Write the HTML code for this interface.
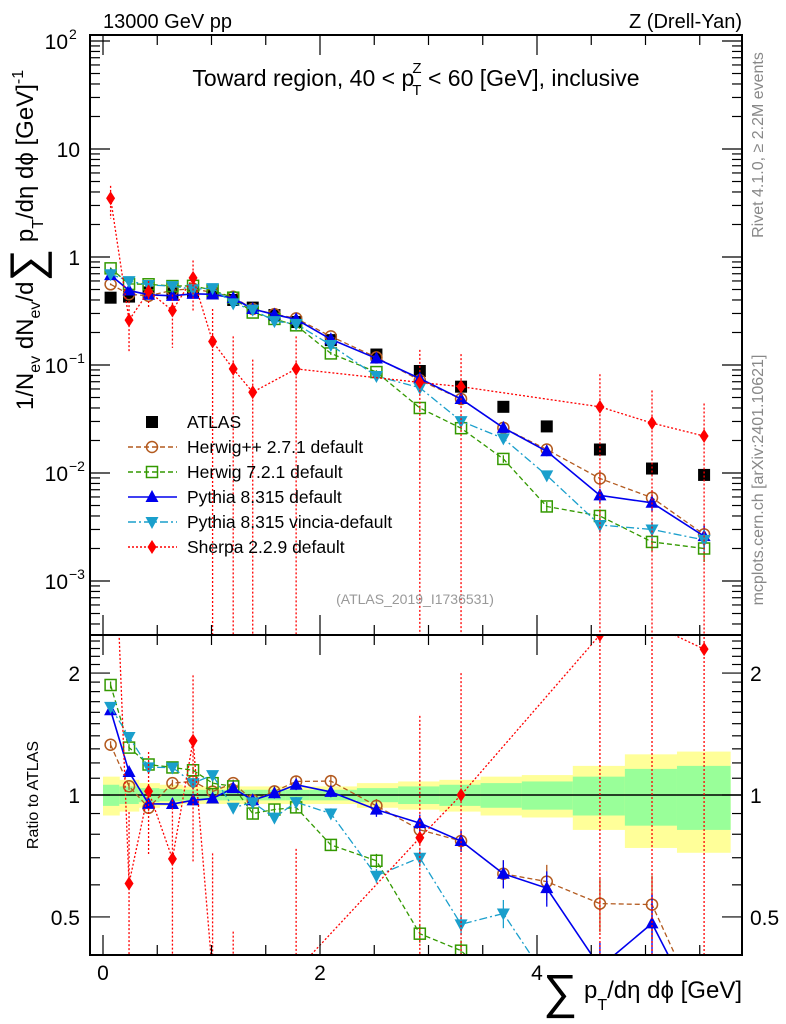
<!DOCTYPE html>
<html><head><meta charset="utf-8">
<style>
html,body{margin:0;padding:0;background:#fff;overflow:hidden;width:786px;height:1024px;}
svg{display:block;}
svg text{font-family:"Liberation Sans",sans-serif;}
</style></head>
<body>
<svg id="chart" xmlns="http://www.w3.org/2000/svg" width="786" height="1024" viewBox="0 0 786 1024" style="position:absolute;left:0;top:0"></svg>
<script>
const xCenters=[0.07,0.24,0.42,0.64,0.83,1.01,1.20,1.38,1.58,1.78,2.10,2.52,2.92,3.30,3.69,4.09,4.58,5.06,5.54];
const binEdges=[0,0.15,0.33,0.52,0.73,0.93,1.10,1.30,1.48,1.68,1.90,2.34,2.72,3.10,3.48,3.86,4.33,4.81,5.29,5.78];
const atlasVals=[0.42,0.43,0.47,0.46,0.47,0.46,0.40,0.34,0.29,0.25,0.17,0.125,0.088,0.063,0.041,0.027,0.0165,0.011,0.0096];
const bandTotal=[0.11,0.09,0.07,0.06,0.05,0.05,0.05,0.05,0.05,0.05,0.05,0.07,0.08,0.09,0.11,0.12,0.18,0.26,0.28];
const bandStat=[0.06,0.05,0.04,0.035,0.03,0.03,0.03,0.03,0.03,0.03,0.03,0.04,0.05,0.06,0.07,0.08,0.11,0.16,0.18];
const herwigppVals=[0.559,0.452,0.437,0.492,0.508,0.469,0.428,0.330,0.296,0.270,0.184,0.1175,0.0722,0.0485,0.0262,0.0165,0.0089,0.0059,0.0027];
const herwig7Vals=[0.785,0.563,0.559,0.538,0.541,0.492,0.42,0.306,0.267,0.233,0.128,0.086,0.040,0.026,0.0135,0.0049,0.0040,0.0023,0.0020];
const pythiaVals=[0.680,0.490,0.447,0.437,0.456,0.451,0.416,0.330,0.293,0.265,0.173,0.115,0.075,0.0485,0.0262,0.0159,0.0062,0.0053,0.0026];
const vinciaVals=[0.693,0.598,0.550,0.538,0.503,0.515,0.372,0.326,0.255,0.240,0.153,0.079,0.0616,0.0302,0.0209,0.0095,0.0033,0.0030,0.0024];
const sherpaVals=[3.5,0.26,0.48,0.32,0.64,0.165,0.092,0.056,null,0.092,null,null,0.069,0.063,null,null,0.041,0.029,0.022];
const modelErr=[0.02,0.02,0.02,0.02,0.02,0.02,0.02,0.03,0.03,0.03,0.03,0.04,0.05,0.06,0.08,0.1,0.15,0.18,0.25];
const sherpaErrUp=[0.3,0.5,0.25,0.4,0.45,1,1,1,0,1,0,0,1,1,0,0,1,1,1];
const sherpaErrDn=[0.35,0.5,0.3,0.55,0.5,1,1,1,0,1,0,0,1,1,0,0,1,1,1];
const yTickLabelsMain=[["10","2"],["10",""],["1",""],["10","−1"],["10","−2"],["10","−3"]];
const ratioTicks=[0.5,1,2];
const xTicks=[0,2,4];

const svg=document.getElementById('chart');
const NS='http://www.w3.org/2000/svg';
const L=90,R=742,MT=35,MB=635,RT=635,RB=955;
function X(v){return 103+v*108.5;}
function Y(v){return 257-108*Math.log10(v);}
function YR(r){return 795-405*Math.log10(r);}
function mk(tag,attrs,parent){const e=document.createElementNS(NS,tag);for(const k in attrs)e.setAttribute(k,attrs[k]);(parent||svg).appendChild(e);return e;}
function clampY(y,top,bot){return Math.max(top,Math.min(bot,y));}

const defs=mk('defs',{});
const c1=mk('clipPath',{id:'cm'},defs);mk('rect',{x:L,y:MT,width:R-L,height:MB-MT},c1);
const c2=mk('clipPath',{id:'cr'},defs);mk('rect',{x:L,y:RT,width:R-L,height:RB-RT},c2);

const gBand=mk('g',{'clip-path':'url(#cr)'});


for(let i=0;i<xCenters.length;i++){
  const x0=X(binEdges[i]),x1=X(binEdges[i+1]);
  const r1=mk('rect',{x:x0,y:YR(1+bandTotal[i]),width:x1-x0+0.5,height:YR(1-bandTotal[i])-YR(1+bandTotal[i]),fill:'#ffff99'},gBand);
  
  
  const r2=mk('rect',{x:x0,y:YR(1+bandStat[i]),width:x1-x0+0.5,height:YR(1-bandStat[i])-YR(1+bandStat[i]),fill:'#99ff99'},gBand);
  
  
}
mk('line',{x1:L,x2:R,y1:YR(1),y2:YR(1),stroke:'#000','stroke-width':1.5});

function marker(g,type,x,y,color){
  let e;
  if(type==='square')e=mk('rect',{x:x-6,y:y-6,width:12,height:12,fill:'#000'},g);
  else if(type==='circle')e=mk('circle',{cx:x,cy:y,r:5.5,fill:'none',stroke:color,'stroke-width':1.5},g);
  else if(type==='osquare')e=mk('rect',{x:x-5.5,y:y-5.5,width:11,height:11,fill:'none',stroke:color,'stroke-width':1.5},g);
  else if(type==='tri')e=mk('path',{d:`M${x},${y-7}L${x+6.5},${y+5}L${x-6.5},${y+5}Z`,fill:color},g);
  else if(type==='dtri')e=mk('path',{d:`M${x},${y+7}L${x+6.5},${y-5}L${x-6.5},${y-5}Z`,fill:color},g);
  else if(type==='diamond')e=mk('path',{d:`M${x},${y-7}L${x+4.5},${y}L${x},${y+7}L${x-4.5},${y}Z`,fill:color},g);
  
  
}

const series=[
 {name:'herwigpp',vals:herwigppVals,color:'#b35a1f',dash:'5,3',m:'circle'},
 {name:'herwig7',vals:herwig7Vals,color:'#339900',dash:'5,3',m:'osquare'},
 {name:'pythia',vals:pythiaVals,color:'#0000ee',dash:'',m:'tri'},
 {name:'vincia',vals:vinciaVals,color:'#1a9fcc',dash:'8,3,2,3',m:'dtri'},
 {name:'sherpa',vals:sherpaVals,color:'#ff0000',dash:'2,2',m:'diamond'}
];

function drawPanel(ratio){
  const clip=ratio?'url(#cr)':'url(#cm)';
  const top=ratio?RT:MT,bot=ratio?RB:MB;
  const fy=(v,i)=>ratio?YR(v/atlasVals[i]):Y(v);
  if(!ratio){
    const ga=mk('g',{'clip-path':clip});
    
    
    atlasVals.forEach((v,i)=>marker(ga,'square',X(xCenters[i]),Y(v),'#000'));
  }
  series.forEach(s=>{
    const g=mk('g',{'clip-path':clip});
    
    
    let pts=[];
    s.vals.forEach((v,i)=>{if(v!==null)pts.push([X(xCenters[i]),fy(v,i),i,v]);});
    const line=mk('polyline',{points:pts.map(p=>p[0]+','+p[1]).join(' '),fill:'none',stroke:s.color,'stroke-width':s.name==='pythia'?1.6:1.3,'stroke-dasharray':s.dash},g);
    
    
    pts.forEach(p=>{
      const i=p[2],v=p[3];
      let up,dn;
      if(s.name==='sherpa'){up=v*(1+sherpaErrUp[i]);dn=v*(1-sherpaErrDn[i]);if(dn<=0)dn=1e-9;}
      else{up=v*(1+modelErr[i]);dn=v*(1-modelErr[i]);}
      const y1=clampY(fy(up,i),top-2,bot+2),y2=clampY(fy(dn,i),top-2,bot+2);
      const eb=mk('line',{x1:p[0],x2:p[0],y1:y1,y2:y2,stroke:s.color,'stroke-width':1.3,'stroke-dasharray':s.name==='sherpa'?'2,2':''},g);
      
      
      marker(g,s.m,p[0],p[1],s.color);
    });
  });
}
drawPanel(false);
drawPanel(true);

const fm=mk('rect',{x:L,y:MT,width:R-L,height:MB-MT,fill:'none',stroke:'#000','stroke-width':2});

const fr=mk('rect',{x:L,y:RT,width:R-L,height:RB-RT,fill:'none',stroke:'#000','stroke-width':2});


const gy=mk('g',{});

for(let d=-4;d<=2;d++){
  for(let k=1;k<10;k++){
    const v=k*Math.pow(10,d);const y=Y(v);
    if(y<MT||y>MB)continue;
    const len=k===1?20:10;
    mk('line',{x1:L,x2:L+len,y1:y,y2:y,stroke:'#000','stroke-width':1.2},gy);
    mk('line',{x1:R,x2:R-len,y1:y,y2:y,stroke:'#000','stroke-width':1.2},gy);
  }
}
yTickLabelsMain.forEach((lab,j)=>{
  const y=Y(Math.pow(10,2-j));
  const t=mk('text',{x:lab[1]?68:80,y:y+8,'font-size':21,'text-anchor':'end'},gy);
  t.textContent=lab[0];
  
  if(lab[1]){const s=mk('text',{x:69,y:y-2,'font-size':14},gy);s.textContent=lab[1];
    }
});

const gr=mk('g',{});

for(let r=0.4;r<=2.5;r+=0.1){
  const y=YR(r);if(y<RT||y>RB)continue;
  const major=Math.abs(r-0.5)<1e-6||Math.abs(r-1)<1e-6||Math.abs(r-2)<1e-6;
  const len=major?20:10;
  mk('line',{x1:L,x2:L+len,y1:y,y2:y,stroke:'#000','stroke-width':1.2},gr);
  mk('line',{x1:R,x2:R-len,y1:y,y2:y,stroke:'#000','stroke-width':1.2},gr);
}
ratioTicks.forEach(r=>{
  const t=mk('text',{x:80,y:YR(r)+8,'font-size':21,'text-anchor':'end'},gr);t.textContent=String(r);
  
  const t2=mk('text',{x:750,y:YR(r)+8,'font-size':21},gr);t2.textContent=String(r);
  
});

const gx=mk('g',{});

for(let v=0;v<=5.8;v+=0.5){
  const x=X(v);const major=Math.abs(v-Math.round(v/2)*2)<1e-6;
  const len=major?20:10;
  [[MT,1],[MB,-1],[RT,1],[RB,-1]].forEach(([y0,dir])=>{
    mk('line',{x1:x,x2:x,y1:y0,y2:y0+dir*len,stroke:'#000','stroke-width':1.2},gx);
  });
}
xTicks.forEach(v=>{
  const t=mk('text',{x:X(v),y:980,'font-size':21,'text-anchor':'middle'},gx);t.textContent=String(v);
  
});

const legendItems=[
 {label:'ATLAS',m:'square',color:'#000',dash:null},
 {label:'Herwig++ 2.7.1 default',m:'circle',color:'#b35a1f',dash:'5,3'},
 {label:'Herwig 7.2.1 default',m:'osquare',color:'#339900',dash:'5,3'},
 {label:'Pythia 8.315 default',m:'tri',color:'#0000ee',dash:''},
 {label:'Pythia 8.315 vincia-default',m:'dtri',color:'#1a9fcc',dash:'8,3,2,3'},
 {label:'Sherpa 2.2.9 default',m:'diamond',color:'#ff0000',dash:'2,2'}
];
const gl=mk('g',{});

legendItems.forEach((it,i)=>{
  const y=422+i*25;
  const ge=mk('g',{},gl);
  
  if(it.dash!==null)mk('line',{x1:128,x2:177,y1:y,y2:y,stroke:it.color,'stroke-width':1.4,'stroke-dasharray':it.dash},ge);
  marker(ge,it.m,152,y,it.color);
  const t=mk('text',{x:187,y:y+6,'font-size':17.5},ge);t.textContent=it.label;
});
</script>
<svg style="position:absolute;left:0;top:0" width="786" height="1024">
<text x="103" y="28" font-size="20" font-family="Liberation Sans, sans-serif">13000 GeV pp</text>
<text x="742" y="28" font-size="20" text-anchor="end" font-family="Liberation Sans, sans-serif">Z (Drell-Yan)</text>
<text x="416" y="86" font-size="23" text-anchor="middle" font-family="Liberation Sans, sans-serif">Toward region, 40 &lt; p<tspan font-size="15" dy="9" dx="-2">T</tspan><tspan font-size="15" dy="-22" dx="-9">Z</tspan><tspan dy="13"> &lt; 60 [GeV], inclusive</tspan></text>
<text x="415" y="604" font-size="14" fill="#999" text-anchor="middle" font-family="Liberation Sans, sans-serif">(ATLAS_2019_I1736531)</text>
<text transform="translate(763,145) rotate(-90)" font-size="16" fill="#888" text-anchor="middle" font-family="Liberation Sans, sans-serif">Rivet 4.1.0, ≥ 2.2M events</text>
<text transform="translate(763,480) rotate(-90)" font-size="16" fill="#888" text-anchor="middle" font-family="Liberation Sans, sans-serif">mcplots.cern.ch [arXiv:2401.10621]</text>
<text transform="translate(33,240) rotate(-90)" font-size="24" text-anchor="middle" font-family="Liberation Sans, sans-serif">1/N<tspan font-size="16" dy="7">ev</tspan><tspan dy="-7"> dN</tspan><tspan font-size="16" dy="7">ev</tspan><tspan dy="-7">/d</tspan><tspan font-size="46" dy="9">∑</tspan><tspan dy="-9"> p</tspan><tspan font-size="16" dy="10">T</tspan><tspan dy="-10">/dη dϕ  [GeV]</tspan><tspan font-size="16" dy="-10">-1</tspan></text>
<text transform="translate(38,795) rotate(-90)" font-size="16" text-anchor="middle" font-family="Liberation Sans, sans-serif">Ratio to ATLAS</text>
<text x="742" y="998" font-size="24" text-anchor="end" font-family="Liberation Sans, sans-serif"><tspan font-size="48" dy="10">∑</tspan><tspan dy="-10"> p</tspan><tspan font-size="16" dy="12">T</tspan><tspan dy="-12">/dη dϕ [GeV]</tspan></text>
</svg>
</body></html>
